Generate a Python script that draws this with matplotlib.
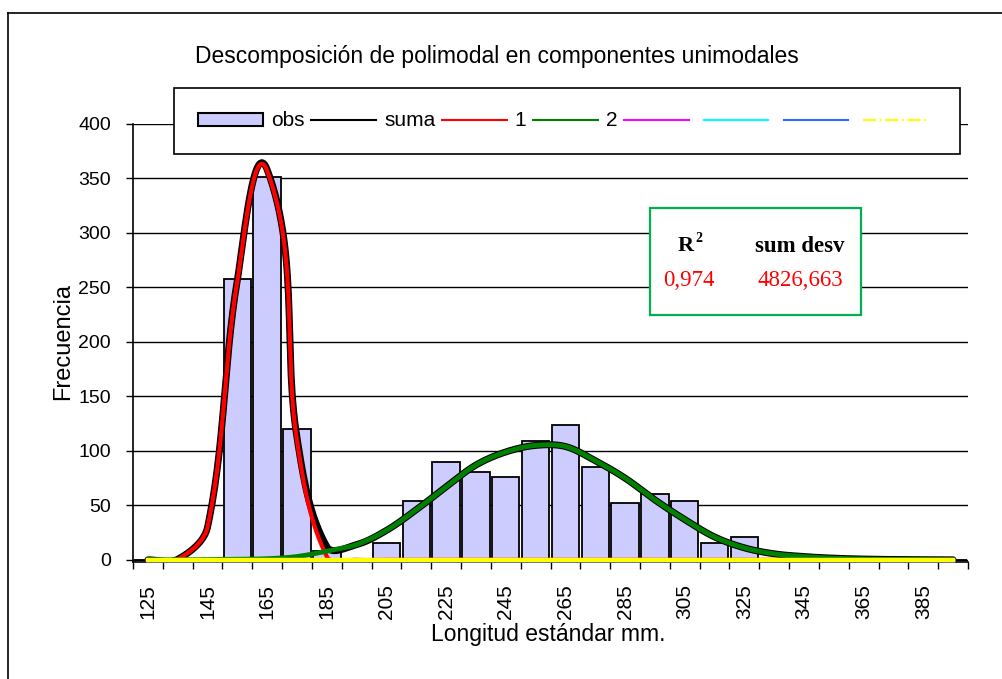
import numpy as np
import matplotlib
matplotlib.use("Agg")
import matplotlib.pyplot as plt
from matplotlib.patches import Rectangle, Patch
from matplotlib.lines import Line2D

# Datos (clases de longitud estandar, mm)
longitudes = [125, 135, 145, 155, 165, 175, 185, 195, 205, 215, 225, 235, 245, 255,
              265, 275, 285, 295, 305, 315, 325, 335, 345, 355, 365, 375, 385, 395]
obs = [0, 0, 0, 258, 351, 120, 8, 0, 15, 54, 90, 81, 76, 109,
       124, 85, 52, 60, 54, 15, 21, 0, 0, 0, 0, 0, 0, 0]
comp1 = [0, 0.5, 30, 256, 357, 109, 3, 0, 0, 0, 0, 0, 0, 0,
         0, 0, 0, 0, 0, 0, 0, 0, 0, 0, 0, 0, 0, 0]
comp2 = [0, 0, 0.2, 0.5, 1, 3, 8, 14, 27, 46, 67, 87, 99, 105,
         104, 91, 75, 55, 37, 21, 11, 5.5, 3, 1.5, 0.7, 0.3, 0.1, 0]
suma = [0, 0.5, 30, 257, 358, 112, 12, 14, 27, 46, 67, 87, 99, 105,
        104, 91, 75, 55, 37, 21, 11, 5.5, 3, 1.5, 0.7, 0.3, 0.1, 0]
comp_vacias = [0] * 28
etiquetas_x = [str(v) if i % 2 == 0 else "" for i, v in enumerate(longitudes)]

r2 = "0,974"
sum_desv = "4826,663"

plt.rcParams["font.family"] = ["Liberation Sans", "DejaVu Sans"]


def suavizar(ax, xs, ys, n=30):
    """Linea suavizada con curvas de Bezier en coordenadas de pantalla (estilo Excel)."""
    pts = ax.transData.transform(np.column_stack([xs, ys]).astype(float))
    P = np.vstack([pts[0], pts, pts[-1]])
    t = np.linspace(0, 1, n, endpoint=False)[:, None]
    tramos = []
    for i in range(1, len(P) - 2):
        p0, p1, p2, p3 = P[i - 1], P[i], P[i + 1], P[i + 2]
        largo = np.linalg.norm(p2 - p1) / 3
        d1 = p2 - p0
        d2 = p3 - p1
        c1 = p1 + (d1 / np.linalg.norm(d1) * largo if np.linalg.norm(d1) > 0 else 0)
        c2 = p2 - (d2 / np.linalg.norm(d2) * largo if np.linalg.norm(d2) > 0 else 0)
        tramos.append((1 - t) ** 3 * p1 + 3 * (1 - t) ** 2 * t * c1
                      + 3 * (1 - t) * t ** 2 * c2 + t ** 3 * p2)
    tramos.append(P[-2][None, :])
    curva = ax.transData.inverted().transform(np.vstack(tramos))
    return curva[:, 0], curva[:, 1]


W, H = 1002, 679
fig = plt.figure(figsize=(W / 100, H / 100), dpi=100)
ax = fig.add_axes([133 / W, 1 - 562 / H, 835 / W, 438 / H])

x = np.arange(len(longitudes))
ax.set_xlim(-0.5, len(longitudes) - 0.5)
ax.set_ylim(-2, 400)

ax.bar(x, obs, width=0.92, color="#CCCCFF", edgecolor="black", linewidth=1.3, zorder=2)

sx, sy = suavizar(ax, x, suma)
ax.plot(sx, sy, color="black", lw=5, zorder=3, solid_capstyle="round")
sx, sy = suavizar(ax, x, comp1)
ax.plot(sx, sy, color="#FF0000", lw=3, zorder=4, solid_capstyle="round")
sx, sy = suavizar(ax, x, comp2)
ax.plot(sx, sy, color="#008000", lw=3.5, zorder=5, solid_capstyle="round")
for color in ["#FF00FF", "#00FFFF", "#3366FF"]:
    ax.plot(x, comp_vacias, color=color, lw=2.5, zorder=6, clip_on=False)
ax.plot(x, comp_vacias, color="#FFFF00", lw=3.2, zorder=7, clip_on=False)

ax.set_yticks(range(0, 401, 50))
ax.yaxis.grid(True, color="black", lw=1)
ax.set_axisbelow(True)

ax.set_xticks(x)
ax.set_xticklabels(etiquetas_x, rotation=90, fontsize=15)
ax.set_xticks(np.arange(-0.5, len(longitudes), 1), minor=True)
ax.tick_params(axis="x", which="major", length=0, pad=16)
ax.tick_params(axis="x", which="minor", length=5, width=1, direction="out")
ax.tick_params(axis="y", length=5, width=1, direction="out", labelsize=14, pad=11)

for lado in ["top", "right"]:
    ax.spines[lado].set_visible(False)
for lado in ["left", "bottom"]:
    ax.spines[lado].set_color("black")
    ax.spines[lado].set_linewidth(1.2)

# Leyenda
manejadores = [
    Patch(facecolor="#CCCCFF", edgecolor="black", linewidth=1.5),
    Line2D([], [], color="black", lw=1.5),
    Line2D([], [], color="#FF0000", lw=1.5),
    Line2D([], [], color="#008000", lw=1.5),
    Line2D([], [], color="#FF00FF", lw=1.5),
    Line2D([], [], color="#00FFFF", lw=1.5),
    Line2D([], [], color="#3366FF", lw=1.5),
    Line2D([], [], color="#FFFF00", lw=1.5, ls="-."),
]
textos = ["obs", "suma", "1", "2", "", "", "", ""]
leg = ax.legend(manejadores, textos, ncol=8, mode="expand", loc="center",
                bbox_to_anchor=(174 / W, 1 - 154 / H, 786 / W, 66 / H),
                bbox_transform=fig.transFigure, fontsize=15, frameon=True,
                fancybox=False, edgecolor="black", framealpha=1,
                handlelength=3.1, handleheight=0.6, handletextpad=0.4,
                borderpad=1.15, borderaxespad=0)
leg.get_frame().set_linewidth(1.2)
leg.set_zorder(10)

# Titulos
fig.text(497 / W, 1 - 57 / H, "Descomposición de polimodal en componentes unimodales",
         ha="center", va="center", fontsize=16.5)
fig.text(63 / W, 1 - 341 / H, "Frecuencia", rotation=90, ha="center", va="center", fontsize=17)
fig.text(548 / W, 1 - 634 / H, "Longitud estándar mm.", ha="center", va="center", fontsize=16.5)

# Cuadro R2
fig.add_artist(Rectangle((650 / W, 1 - 315 / H), 211 / W, 107 / H, transform=fig.transFigure,
                         facecolor="white", edgecolor="#00B050", linewidth=1.6, zorder=5))
serif = ["Liberation Serif", "DejaVu Serif"]
fig.text(686 / W, 1 - 246 / H, "R", family=serif, weight="bold", fontsize=16,
         ha="center", va="center", zorder=6)
fig.text(699 / W, 1 - 238 / H, "2", family=serif, weight="bold", fontsize=10,
         ha="center", va="center", zorder=6)
fig.text(800 / W, 1 - 246 / H, "sum desv", family=serif, weight="bold", fontsize=16.5,
         ha="center", va="center", zorder=6)
fig.text(689 / W, 1 - 281 / H, r2, family=serif, color="#FF0000", fontsize=16.5,
         ha="center", va="center", zorder=6)
fig.text(800 / W, 1 - 281 / H, sum_desv, family=serif, color="#FF0000", fontsize=16.5,
         ha="center", va="center", zorder=6)

# Borde exterior del grafico
fig.add_artist(Line2D([8 / W, 1], [1 - 13 / H, 1 - 13 / H], transform=fig.transFigure,
                      color="black", lw=1.2))
fig.add_artist(Line2D([8 / W, 8 / W], [0, 1 - 13 / H], transform=fig.transFigure,
                      color="black", lw=1.2))

fig.savefig("out.png", dpi=100)
plt.close(fig)
